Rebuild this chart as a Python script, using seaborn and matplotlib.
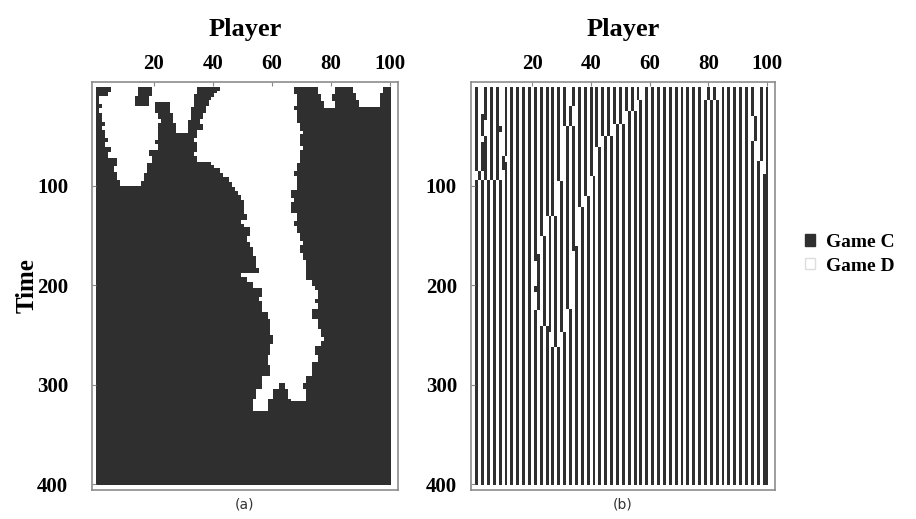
import numpy as np
import seaborn as sns
import matplotlib.pyplot as plt
from matplotlib.colors import ListedColormap
from matplotlib.patches import Patch

n_players = 100
n_steps = 400
x_ticks = [20, 40, 60, 80, 100]
y_ticks = [100, 200, 300, 400]
legend_labels = ['Game C', 'Game D']
panel_labels = ['(a)', '(b)']

# ---- panel (a): Game D (white) regions, edges given as (start step -> player) ----
blob_left_t = [0, 5, 10, 18, 22, 27, 36, 40, 44, 52, 56, 61, 66, 72, 80, 86, 94]
blob_left_p = [6, 5, 2, 3, 2, 3, 4, 3, 4, 5, 4, 6, 5, 8, 7, 8, 9]
blob_right_t = [0, 27, 33, 37, 54, 58, 64, 70, 77, 87, 95]
blob_right_p = [20, 21, 22, 21, 20, 21, 18, 19, 17, 16, 15]
blob_end = 100

ic1_left_t = [0, 16, 27, 37]
ic1_left_p = [20, 26, 27, 28]
ic1_right_t = [0, 8, 21, 34]
ic1_right_p = [34, 33, 32, 31]
ic1_end = 47

trunk_left_t = [0, 4, 7, 11, 14, 20, 27, 33, 38, 44, 52, 56, 66, 70, 76, 79, 82,
                87, 91, 96, 101, 105, 109, 114, 128, 134, 138, 141, 150, 156, 161,
                170, 182, 187, 191, 196, 202, 212, 216, 227, 234, 250, 259, 270,
                280, 291, 304, 314]
trunk_left_p = [43, 42, 41, 40, 39, 38, 37, 36, 37, 35, 34, 35, 34, 35, 40, 41, 43,
                44, 46, 47, 48, 49, 50, 51, 52, 50, 51, 53, 52, 53, 54,
                55, 56, 50, 52, 54, 57, 56, 57, 59, 60, 61, 60, 59,
                60, 57, 55, 54]
trunk_right_t = [0, 8, 20, 24, 37, 45, 48, 60, 64, 77, 85, 90, 104, 112, 116, 127,
                 135, 140, 147, 155, 159, 167, 174, 194, 200, 204, 214, 218, 224,
                 234, 244, 252, 256, 261, 270, 277, 291, 298, 304, 316]
trunk_right_p = [67, 68, 67, 68, 69, 70, 69, 70, 69, 68, 67, 68, 66, 67, 66, 68,
                 67, 68, 69, 70, 69, 70, 71, 73, 74, 75, 74, 75, 73,
                 75, 76, 77, 76, 74, 75, 73, 71, 70, 71, 58]
trunk_end = 326

ica_left_t = [0, 8, 15]
ica_left_p = [76, 77, 78]
ica_right_t = [0, 8, 15]
ica_right_p = [81, 80, 81]
ica_end = 22

icb_left_t = [0, 6, 14]
icb_left_p = [88, 89, 90]
icb_right_t = [0, 6]
icb_right_p = [97, 96]
icb_end = 21

# Game C (dark) spots inside the white regions
island_t = [0, 10]
island_left = [15, 14]
island_right = [19, 18]
island_end = 20

notch_t = [298, 304, 314]
notch_left = [63, 61, 59]
notch_right = [64, 65, 66]
notch_end = 316

# ---- panel (b): alternating stripes, domains where the phase is flipped ----
stripe_unit = [1, 0]  # player 1 plays C, player 2 plays D, ...

d1_left_t = [0, 28, 34, 50, 56, 85]
d1_left_p = [3, 4, 5, 3, 4, 1]
d1_right_t = [0, 40, 46, 70, 76, 84]
d1_right_p = [9, 8, 9, 11, 10, 9]
d1_end = 94

d2_left_t = [0, 20, 40, 95, 130, 150, 168, 175, 200, 207, 225, 241, 247]
d2_left_p = [33, 35, 31, 29, 25, 23, 22, 21, 22, 21, 23, 26, 27]
d2_right_t = [0, 14, 25, 38, 50, 61, 90, 110, 121, 160, 165, 224, 247]
d2_right_p = [57, 55, 51, 47, 43, 41, 39, 37, 35, 34, 33, 31, 29]
d2_end = 262

d3_left_t = [0, 30, 55, 75, 88]
d3_left_p = [97, 95, 97, 99, 100]
d3_right_t = [0]
d3_right_p = [100]
d3_end = 400

d4_left_t = [0]
d4_left_p = [79]
d4_right_t = [0]
d4_right_p = [83]
d4_end = 14

DARK = '#2f2f2f'


def region(left_t, left_p, right_t, right_p, end):
    mask = np.zeros((n_steps, n_players), dtype=bool)
    for t in range(left_t[0], end):
        lo = left_p[np.searchsorted(left_t, t, side='right') - 1]
        hi = right_p[np.searchsorted(right_t, t, side='right') - 1]
        mask[t, lo - 1:hi] = True
    return mask


white_a = (region(blob_left_t, blob_left_p, blob_right_t, blob_right_p, blob_end)
           | region(ic1_left_t, ic1_left_p, ic1_right_t, ic1_right_p, ic1_end)
           | region(trunk_left_t, trunk_left_p, trunk_right_t, trunk_right_p, trunk_end)
           | region(ica_left_t, ica_left_p, ica_right_t, ica_right_p, ica_end)
           | region(icb_left_t, icb_left_p, icb_right_t, icb_right_p, icb_end))
dark_a = (region(island_t, island_left, island_t, island_right, island_end)
          | region(notch_t, notch_left, notch_t, notch_right, notch_end))
grid_a = np.ones((n_steps, n_players), dtype=int)
grid_a[white_a] = 0
grid_a[dark_a] = 1

base_row = np.tile(stripe_unit, n_players // len(stripe_unit))
base_b = np.tile(base_row, (n_steps, 1))
flip = (region(d1_left_t, d1_left_p, d1_right_t, d1_right_p, d1_end)
        | region(d2_left_t, d2_left_p, d2_right_t, d2_right_p, d2_end)
        | region(d3_left_t, d3_left_p, d3_right_t, d3_right_p, d3_end)
        | region(d4_left_t, d4_left_p, d4_right_t, d4_right_p, d4_end))
grid_b = np.where(flip, 1 - base_b, base_b)

plt.rcParams['font.family'] = ['Liberation Serif', 'DejaVu Serif']
plt.rcParams['font.weight'] = 'bold'

fig = plt.figure(figsize=(9.16, 5.19), dpi=100)
ax_a = fig.add_axes([0.1004, 0.0559, 0.334, 0.786])
ax_b = fig.add_axes([0.514, 0.0559, 0.332, 0.786])
cmap = ListedColormap(['white', DARK])

for ax, grid, lab, ypad in [(ax_a, grid_a, panel_labels[0], 17),
                            (ax_b, grid_b, panel_labels[1], 10)]:
    sns.heatmap(grid, ax=ax, cmap=cmap, vmin=0, vmax=1, cbar=False,
                xticklabels=False, yticklabels=False)
    ax.set_xlim(-1.5, 102.2)
    ax.set_ylim(405.5, -4.5)
    ax.xaxis.tick_top()
    ax.xaxis.set_label_position('top')
    ax.set_xticks([v - 0.5 for v in x_ticks])
    ax.set_xticklabels([str(v) for v in x_ticks], fontsize=15, fontweight='bold')
    ax.set_yticks([v - 0.5 for v in y_ticks])
    ax.set_yticklabels([str(v) for v in y_ticks], fontsize=15, fontweight='bold')
    ax.tick_params(axis='both', direction='in', length=3, color='#888888')
    ax.tick_params(axis='x', pad=6)
    ax.tick_params(axis='y', pad=ypad)
    ax.set_xlabel('Player', fontsize=19, fontweight='bold', labelpad=13)
    for s in ax.spines.values():
        s.set_visible(True)
        s.set_color('#8c8c8c')
        s.set_linewidth(1.2)
    bb = ax.get_position()
    fig.text((bb.x0 + bb.x1) / 2, 0.027, lab, ha='center', va='center',
             fontsize=10, fontweight='normal', family='DejaVu Sans', color='#333333')

ax_a.set_ylabel('Time', fontsize=18, fontweight='bold', labelpad=-1)

handles = [Patch(facecolor=DARK, edgecolor=DARK),
           Patch(facecolor='white', edgecolor='#dddddd')]
fig.legend(handles, legend_labels, loc='center left', bbox_to_anchor=(0.86, 0.51),
           frameon=False, handlelength=0.5, handleheight=0.5, handletextpad=0.55,
           labelspacing=0.35, prop={'family': 'Liberation Serif', 'weight': 'bold', 'size': 14})

fig.savefig('out.png', dpi=100)
